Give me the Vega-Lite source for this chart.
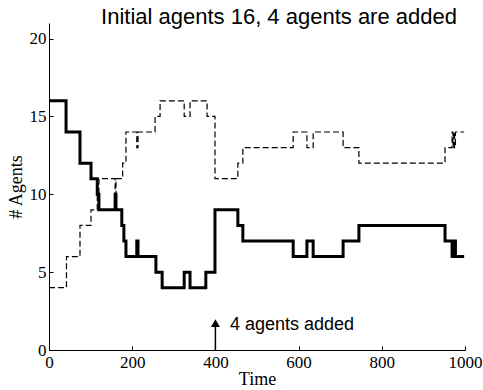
{
  "$schema": "https://vega.github.io/schema/vega-lite/v6.json",
  "width": 416,
  "height": 327,
  "autosize": "none",
  "padding": {"left": 49, "top": 23, "right": 18, "bottom": 40},
  "background": "white",
  "config": {
    "view": {"stroke": null},
    "axis": {
      "grid": false,
      "domainColor": "#000000",
      "domainWidth": 1,
      "tickColor": "#000000",
      "tickWidth": 1,
      "tickSize": -4,
      "labelFont": "Liberation Serif",
      "labelFontSize": 17,
      "labelColor": "#000000",
      "titleFont": "Liberation Serif",
      "titleFontSize": 18,
      "titleFontWeight": "normal",
      "titleColor": "#000000"
    }
  },
  "title": {
    "text": "Initial agents 16, 4 agents are added",
    "font": "Liberation Sans",
    "fontSize": 22,
    "fontWeight": "normal",
    "color": "#000000",
    "anchor": "middle",
    "baseline": "alphabetic",
    "offset": -23,
    "dx": 22
  },
  "datasets": {
    "agents": [
      {"t": 0, "n": 16, "s": "solid"},
      {"t": 41, "n": 14, "s": "solid"},
      {"t": 74.5, "n": 12, "s": "solid"},
      {"t": 101, "n": 11, "s": "solid"},
      {"t": 116, "n": 10, "s": "solid"},
      {"t": 120, "n": 9, "s": "solid"},
      {"t": 159, "n": 10, "s": "solid"},
      {"t": 161, "n": 9, "s": "solid"},
      {"t": 175, "n": 8, "s": "solid"},
      {"t": 180, "n": 7, "s": "solid"},
      {"t": 185, "n": 6, "s": "solid"},
      {"t": 211, "n": 7, "s": "solid"},
      {"t": 214, "n": 6, "s": "solid"},
      {"t": 257, "n": 5, "s": "solid"},
      {"t": 272, "n": 4, "s": "solid"},
      {"t": 325, "n": 5, "s": "solid"},
      {"t": 339, "n": 4, "s": "solid"},
      {"t": 377, "n": 5, "s": "solid"},
      {"t": 399, "n": 9, "s": "solid"},
      {"t": 454, "n": 8, "s": "solid"},
      {"t": 466, "n": 7, "s": "solid"},
      {"t": 587, "n": 6, "s": "solid"},
      {"t": 620, "n": 7, "s": "solid"},
      {"t": 635, "n": 6, "s": "solid"},
      {"t": 707, "n": 7, "s": "solid"},
      {"t": 745, "n": 8, "s": "solid"},
      {"t": 952, "n": 7, "s": "solid"},
      {"t": 969, "n": 6, "s": "solid"},
      {"t": 971, "n": 7, "s": "solid"},
      {"t": 973, "n": 6, "s": "solid"},
      {"t": 975, "n": 7, "s": "solid"},
      {"t": 977, "n": 6, "s": "solid"},
      {"t": 998, "n": 6, "s": "solid"},
      {"t": 0, "n": 4, "s": "dashed"},
      {"t": 42, "n": 6, "s": "dashed"},
      {"t": 74.5, "n": 8, "s": "dashed"},
      {"t": 101, "n": 9, "s": "dashed"},
      {"t": 116, "n": 10, "s": "dashed"},
      {"t": 120, "n": 11, "s": "dashed"},
      {"t": 159, "n": 10, "s": "dashed"},
      {"t": 161, "n": 11, "s": "dashed"},
      {"t": 177, "n": 12, "s": "dashed"},
      {"t": 185, "n": 14, "s": "dashed"},
      {"t": 211, "n": 13, "s": "dashed"},
      {"t": 214, "n": 14, "s": "dashed"},
      {"t": 255, "n": 15, "s": "dashed"},
      {"t": 267, "n": 16, "s": "dashed"},
      {"t": 325, "n": 15, "s": "dashed"},
      {"t": 339, "n": 16, "s": "dashed"},
      {"t": 380, "n": 15, "s": "dashed"},
      {"t": 399, "n": 11, "s": "dashed"},
      {"t": 454, "n": 12, "s": "dashed"},
      {"t": 466, "n": 13, "s": "dashed"},
      {"t": 587, "n": 14, "s": "dashed"},
      {"t": 620, "n": 13, "s": "dashed"},
      {"t": 635, "n": 14, "s": "dashed"},
      {"t": 707, "n": 13, "s": "dashed"},
      {"t": 745, "n": 12, "s": "dashed"},
      {"t": 952, "n": 13, "s": "dashed"},
      {"t": 969, "n": 14, "s": "dashed"},
      {"t": 971, "n": 13, "s": "dashed"},
      {"t": 973, "n": 14, "s": "dashed"},
      {"t": 975, "n": 13, "s": "dashed"},
      {"t": 977, "n": 14, "s": "dashed"},
      {"t": 998, "n": 14, "s": "dashed"}
    ],
    "note": [
      {"label": "4 agents added"}
    ]
  },
  "layer": [
    {
      "data": {"name": "agents"},
      "transform": [{"filter": "datum.s === 'dashed'"}],
      "mark": {"type": "line", "interpolate": "step-after", "color": "#000000", "strokeWidth": 1.2, "strokeDash": [6, 3]},
      "encoding": {
        "x": {
          "field": "t",
          "type": "quantitative",
          "scale": {"domain": [0, 1000], "nice": false, "zero": false},
          "axis": {"title": "Time", "values": [0, 200, 400, 600, 800, 1000], "format": "d", "labelPadding": 8, "titlePadding": 0, "labelFlush": false}
        },
        "y": {
          "field": "n",
          "type": "quantitative",
          "scale": {"domain": [0, 21], "nice": false},
          "axis": {"title": "# Agents", "values": [0, 5, 10, 15, 20], "format": "d", "labelPadding": 7, "titlePadding": 4, "labelFlush": false}
        }
      }
    },
    {
      "data": {"name": "agents"},
      "transform": [{"filter": "datum.s === 'solid'"}],
      "mark": {"type": "line", "interpolate": "step-after", "color": "#000000", "strokeWidth": 3},
      "encoding": {
        "x": {"field": "t", "type": "quantitative"},
        "y": {"field": "n", "type": "quantitative"}
      }
    },
    {
      "data": {"name": "note"},
      "mark": {"type": "rule", "color": "#000000", "strokeWidth": 1.5},
      "encoding": {"x": {"datum": 400, "type": "quantitative"}, "y": {"datum": 0, "type": "quantitative"}, "y2": {"datum": 1.6}}
    },
    {
      "data": {"name": "note"},
      "mark": {"type": "point", "shape": "triangle-up", "filled": true, "color": "#000000", "size": 81, "opacity": 1},
      "encoding": {"x": {"datum": 400, "type": "quantitative"}, "y": {"datum": 1.72, "type": "quantitative"}}
    },
    {
      "data": {"name": "note"},
      "mark": {"type": "text", "font": "Liberation Sans", "fontSize": 18, "align": "left", "baseline": "alphabetic", "color": "#000000"},
      "encoding": {"x": {"datum": 435, "type": "quantitative"}, "y": {"datum": 1.29, "type": "quantitative"}, "text": {"field": "label"}}
    }
  ]
}
